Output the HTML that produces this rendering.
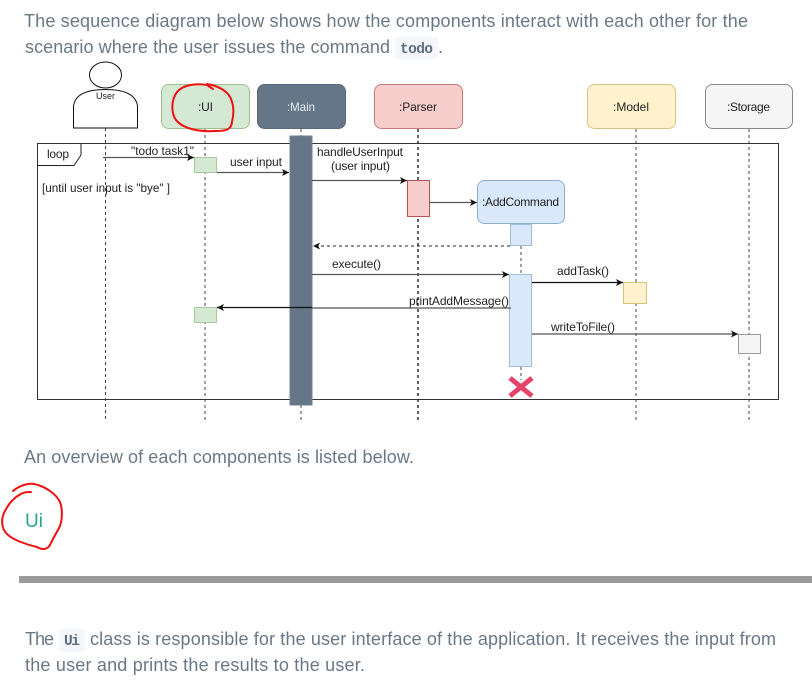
<!DOCTYPE html>
<html>
<head>
<meta charset="utf-8">
<style>
html,body{margin:0;padding:0;background:#fff;width:812px;height:691px;overflow:hidden}
svg{display:block}
.p{font-family:"Liberation Sans",sans-serif;font-size:18px;fill:#6a7885}
.c{font-family:"Liberation Mono",monospace;font-size:14.5px;fill:#5f6f80;font-weight:bold}
.d{font-family:"Liberation Sans",sans-serif;font-size:12px;fill:#222}
.ll{stroke:#444;stroke-width:1;stroke-dasharray:3 3;fill:none}
.ar{stroke:#555;stroke-width:1.3;fill:none}
.red{stroke:#f01010;stroke-width:2;fill:none;stroke-linecap:round;stroke-linejoin:round}
.dg{filter:blur(0.3px)}
</style>
</head>
<body>
<svg width="812" height="691" viewBox="0 0 812 691" xmlns="http://www.w3.org/2000/svg">
<defs>
<marker id="a" markerWidth="8" markerHeight="8" refX="7" refY="3.5" orient="auto" markerUnits="userSpaceOnUse">
<path d="M0 0L7 3.5L0 7L1.7 3.5Z" fill="#111"/>
</marker>
</defs>

<text class="p" x="24" y="27" textLength="724" lengthAdjust="spacing">The sequence diagram below shows how the components interact with each other for the</text>
<text class="p" x="25" y="53" textLength="365" lengthAdjust="spacing">scenario where the user issues the command</text>
<rect x="395" y="37" width="43" height="22" rx="4" fill="#f3f6fb"/>
<text class="c" x="400" y="53" textLength="33" lengthAdjust="spacing">todo</text>
<text class="p" x="438" y="53">.</text>

<g class="dg">
<!-- lifelines -->
<path class="ll" d="M105.5 128V422"/>
<path class="ll" d="M205 129V422"/>
<path class="ll" d="M301 129V136M301 405V422"/>
<path class="ll" d="M418 129V422" style="stroke:#111;stroke-width:1.3"/>
<path class="ll" d="M521 246V274M521 367V380"/>
<path class="ll" d="M636 129V422"/>
<path class="ll" d="M749 129V422"/>

<!-- frame -->
<rect x="37.500" y="143.500" width="741" height="256" fill="none" stroke="#333" stroke-width="1"/>
<path d="M81 143.500V155L74 165.500H37.500" fill="none" stroke="#222"/>
<text class="d" x="47" y="158" textLength="22" lengthAdjust="spacing">loop</text>
<text class="d" x="42" y="192" textLength="128" lengthAdjust="spacingAndGlyphs">[until user input is "bye" ]</text>

<!-- actor -->
<ellipse cx="105.500" cy="75" rx="16" ry="13" fill="#fff" stroke="#111" stroke-width="1"/>
<path d="M73.500 128V106C75 95 86 89.500 105.500 89.500C125 89.500 136 95 137.500 106V128Z" fill="#fff" stroke="#111" stroke-width="1"/>
<text class="d" x="96" y="99" style="font-size:9.500px" textLength="19" lengthAdjust="spacingAndGlyphs">User</text>

<!-- headers -->
<rect x="161.500" y="84.500" width="88" height="44" rx="7" fill="#d5e8d4" stroke="#9dc08f"/>
<text class="d" x="198" y="111" textLength="15" lengthAdjust="spacing">:UI</text>
<rect x="257.500" y="84.500" width="88" height="44" rx="7" fill="#647687" stroke="#56697b"/>
<text class="d" x="287" y="111" style="fill:#e8edf2" textLength="28" lengthAdjust="spacingAndGlyphs">:Main</text>
<rect x="374.500" y="84.500" width="88" height="44" rx="7" fill="#f8cecc" stroke="#c67b78"/>
<text class="d" x="399" y="111" textLength="38" lengthAdjust="spacing">:Parser</text>
<rect x="587.500" y="84.500" width="88" height="44" rx="7" fill="#fff2cc" stroke="#d9c27e"/>
<text class="d" x="613" y="111" textLength="36" lengthAdjust="spacing">:Model</text>
<rect x="705.500" y="84.500" width="87" height="44" rx="7" fill="#f5f5f5" stroke="#8a8a8a"/>
<text class="d" x="727" y="111" textLength="43" lengthAdjust="spacing">:Storage</text>

<!-- activations -->
<rect x="290" y="136" width="22" height="269" fill="#647687" stroke="#6f8192"/>
<rect x="194.500" y="157.500" width="22" height="15" fill="#d5e8d4" stroke="#a8c89c"/>
<rect x="194.500" y="307.500" width="22" height="15" fill="#d5e8d4" stroke="#a8c89c"/>
<rect x="407.500" y="180.500" width="22" height="36" fill="#f8cecc" stroke="#b85450"/>
<rect x="510.500" y="224.500" width="21" height="21" fill="#dae8fc" stroke="#a3bcdc"/>
<rect x="477.500" y="180.500" width="87" height="43" rx="7" fill="#dae8fc" stroke="#8fabd0"/>
<text class="d" x="482" y="206" textLength="77" lengthAdjust="spacing">:AddCommand</text>
<rect x="509.500" y="274.500" width="22" height="92" fill="#dae8fc" stroke="#a3bcdc"/>
<rect x="623.500" y="282.500" width="23" height="21" fill="#fff2cc" stroke="#d9c27e"/>
<rect x="738.500" y="334.500" width="22" height="19" fill="#f5f5f5" stroke="#999"/>

<!-- arrows -->
<path class="ar" d="M103 157.500H194" marker-end="url(#a)"/>
<path class="ar" d="M217 172.500H289" marker-end="url(#a)"/>
<path class="ar" d="M312 180.500H407" marker-end="url(#a)"/>
<path class="ar" d="M430 202.500H477" marker-end="url(#a)"/>
<path class="ar" d="M510 246H313" style="stroke:#222;stroke-width:1;stroke-dasharray:3 3" marker-end="url(#a)"/>
<path class="ar" d="M312 274.500H509" marker-end="url(#a)"/>
<path class="ar" d="M511 308H312" />
<path class="ar" d="M312 307.500H217" style="stroke:#111" marker-end="url(#a)"/>
<path class="ar" d="M532 282.500H623" style="stroke:#111" marker-end="url(#a)"/>
<path class="ar" d="M532 334H738" marker-end="url(#a)"/>

<!-- labels -->
<text class="d" x="131" y="155" textLength="63" lengthAdjust="spacingAndGlyphs">"todo task1"</text>
<text class="d" x="230" y="166" textLength="52" lengthAdjust="spacing">user input</text>
<text class="d" x="317" y="156" textLength="86" lengthAdjust="spacing">handleUserInput</text>
<text class="d" x="331" y="170" textLength="59" lengthAdjust="spacing">(user input)</text>
<text class="d" x="332" y="268" textLength="49" lengthAdjust="spacing">execute()</text>
<text class="d" x="409" y="305" textLength="100" lengthAdjust="spacing">printAddMessage()</text>
<text class="d" x="557" y="275" textLength="52" lengthAdjust="spacing">addTask()</text>
<text class="d" x="551" y="331" textLength="64" lengthAdjust="spacing">writeToFile()</text>

<!-- X -->
<path d="M510 378L532 396M532 378L510 396" stroke="#e6436a" stroke-width="5" fill="none"/>
</g>

<!-- red scribbles -->
<path class="red" d="M213 89L207 85C195 83 183 85 177 92C171 100 171 113 176 120C183 129 200 132 215 131C226 131 231 130 232 122C235 110 233 98 226 92C220 87 214 85 207 84"/>
<path class="red" d="M13 491C20 485 30 482 38 485C47 488 56 494 60 502C63 510 62 520 60 526C56 534 52 540 50 545C47 550 42 550 37 547C28 545 12 540 6 533C1 527 1 518 5 511C9 503 15 497 21 494C24 492 27 492 31 492"/>

<text class="p" x="24" y="463" textLength="390" lengthAdjust="spacing">An overview of each components is listed below.</text>
<text class="p" x="25" y="527" style="fill:#28a784;font-size:19px">Ui</text>

<rect x="19" y="576" width="793" height="7" fill="#9b9b9b"/>

<text class="p" x="25" y="645" textLength="29" lengthAdjust="spacing">The</text>
<rect x="59" y="629" width="26" height="23" rx="4" fill="#f3f6fb"/>
<text class="c" x="64" y="645" textLength="16" lengthAdjust="spacing">Ui</text>
<text class="p" x="90" y="645" textLength="686" lengthAdjust="spacing">class is responsible for the user interface of the application. It receives the input from</text>
<text class="p" x="25" y="671" textLength="340" lengthAdjust="spacing">the user and prints the results to the user.</text>
</svg>
</body>
</html>
